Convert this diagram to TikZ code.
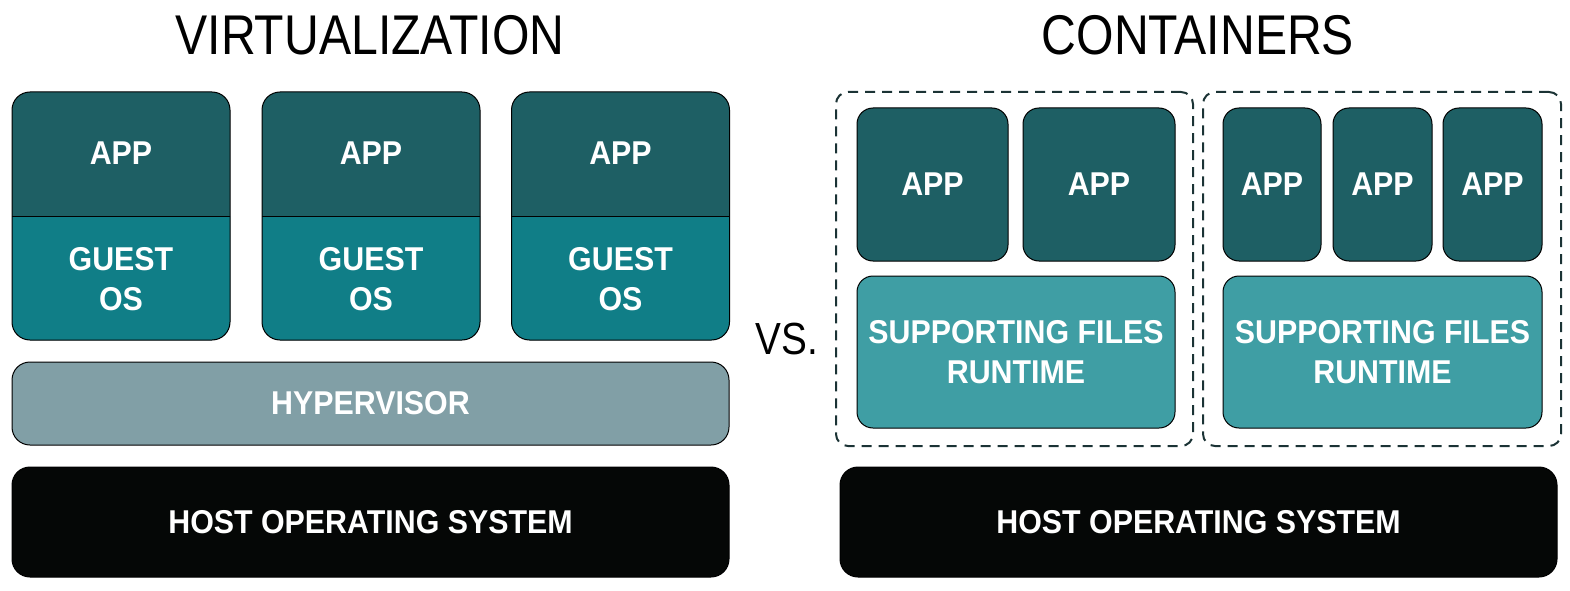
\documentclass[tikz,border=0pt]{standalone}
\usepackage{fontspec}
\setmainfont{Liberation Sans}
\newfontfamily\titlefont[FakeStretch=0.86]{Liberation Sans}
\newfontfamily\boxfont[FakeStretch=0.92]{Liberation Sans}
\usepackage{tikz}
\usetikzlibrary{positioning, calc}
\usepackage{xcolor}

\definecolor{appcol}{HTML}{1E5F64}
\definecolor{guestcol}{HTML}{107E87}
\definecolor{hypercol}{HTML}{819FA6}
\definecolor{suppcol}{HTML}{3F9EA4}
\definecolor{hostcol}{HTML}{050706}
\definecolor{dashcol}{HTML}{1B3335}

\begin{document}
\begin{tikzpicture}[x=1pt, y=-1pt,
  box/.style={draw=black, line width=1pt, outer sep=0pt, inner sep=0pt, rounded corners=18pt,
    text=white, align=center, font=\boxfont\fontsize{33}{40}\selectfont\bfseries},
  lbl/.style={text=white, align=center, font=\boxfont\fontsize{33}{40}\selectfont\bfseries},
  title/.style={font=\titlefont\fontsize{56}{60}\selectfont},
  group/.style={draw=dashcol, line width=2pt, outer sep=0pt, dash pattern=on 10pt off 7pt, rounded corners=12pt}]
  \useasboundingbox (0,0) rectangle (1570,591);

  % virtualization side
  \node[title] (virt) at (370,35) {VIRTUALIZATION};
  \foreach \i/\x in {1/121, 2/371, 3/620.5} {
    \node[box, draw=none, fill=appcol, minimum width=218pt, minimum height=248pt] (vm\i) at (\x,216) {};
    \begin{scope}
      \clip (vm\i.west |- 0,216) rectangle (vm\i.south east);
      \fill[guestcol, rounded corners=18pt] (vm\i.north west) rectangle (vm\i.south east);
    \end{scope}
    \draw[line width=1pt, rounded corners=18pt] (vm\i.north west) rectangle (vm\i.south east);
    \draw[line width=1pt] (vm\i.west |- 0,216) -- (vm\i.east |- 0,216);
    \node[lbl] (app\i) at (\x,153) {APP};
    \node[lbl] (os\i) at (\x,279) {GUEST\\OS};
  }
  \node[box, fill=hypercol, minimum width=717pt, minimum height=83pt] (hyper) at (370.5,403.5) {HYPERVISOR};
  \node[box, fill=hostcol, minimum width=717pt, minimum height=110pt] (hostv) at (370.5,522) {HOST OPERATING SYSTEM};

  \node[title, font=\titlefont\fontsize{45}{50}\selectfont] (vs) at (787,339) {VS.};

  % containers side
  \node[title] (cont) at (1198,35) {CONTAINERS};
  \node[group, minimum width=357pt, minimum height=354pt] (grp1) at (1014.5,269) {};
  \node[group, minimum width=358pt, minimum height=354pt] (grp2) at (1382,269) {};

  \foreach \n/\x/\w in {a/932.5/151, b/1099/152, c/1272/98, d/1382.5/99, e/1492.5/99}
    \node[box, fill=appcol, rounded corners=16pt, minimum width=\w pt, minimum height=153pt] (capp\n) at (\x,184.5) {APP};

  \node[box, fill=suppcol, rounded corners=16pt, minimum width=318pt, minimum height=152pt] (supp1) at (1016,352) {SUPPORTING FILES\\RUNTIME};
  \node[box, fill=suppcol, rounded corners=16pt, minimum width=319pt, minimum height=152pt] (supp2) at (1382.5,352) {SUPPORTING FILES\\RUNTIME};

  \node[box, fill=hostcol, minimum width=717pt, minimum height=110pt] (hostc) at (1198.5,522) {HOST OPERATING SYSTEM};
\end{tikzpicture}
\end{document}
